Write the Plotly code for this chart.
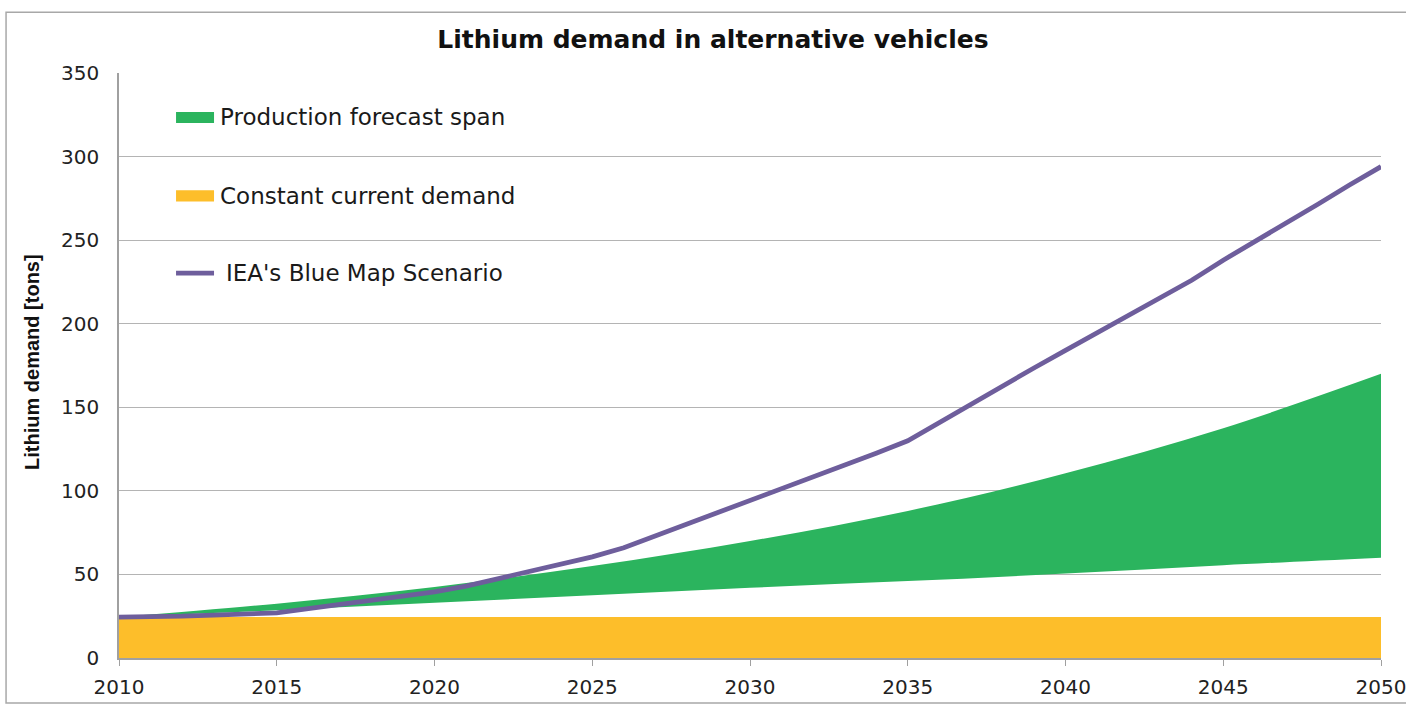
import plotly.graph_objects as go

years_span = [2010, 2015, 2020, 2025, 2030, 2035, 2040, 2045, 2050]
span_upper = [24.5, 32.5, 42.5, 55, 70, 88, 110.5, 137.5, 170]
span_lower = [24.5, 28.5, 33, 37.5, 42, 46, 50.5, 55.5, 60]

years_const = [2010, 2050]
const_demand = [24.5, 24.5]

years_iea = list(range(2010, 2051))
iea_blue_map = [24.5, 24.5, 25, 25.7, 26.3, 27, 29.5, 32, 34.5, 37, 39.5,
                43, 47.5, 52, 56, 60.5, 66, 73, 80.5, 87.5, 94.5,
                101.5, 108.5, 115.5, 122.5, 130, 141, 152, 163, 173.5, 184,
                194.5, 205, 215.5, 226, 238, 249, 260, 271.5, 283, 294]

x_ticks = [2010, 2015, 2020, 2025, 2030, 2035, 2040, 2045, 2050]
y_ticks = [0, 50, 100, 150, 200, 250, 300, 350]

GREEN = "#2BB45E"
ORANGE = "#FDBE2A"
PURPLE = "#6E5E9C"
FONT = "DejaVu Sans"

fig = go.Figure()
fig.add_trace(go.Scatter(x=years_const, y=const_demand, mode="lines",
                         line=dict(width=0, color=ORANGE), fill="tozeroy",
                         fillcolor=ORANGE, name="Constant current demand",
                         showlegend=False))
fig.add_trace(go.Scatter(x=years_span, y=span_lower, mode="lines",
                         line=dict(width=0, color=GREEN, shape="spline"),
                         showlegend=False, hoverinfo="skip"))
fig.add_trace(go.Scatter(x=years_span, y=span_upper, mode="lines",
                         line=dict(width=0, color=GREEN, shape="spline"),
                         fill="tonexty", fillcolor=GREEN,
                         name="Production forecast span", showlegend=False))
fig.add_trace(go.Scatter(x=years_iea, y=iea_blue_map, mode="lines",
                         line=dict(width=4.8, color=PURPLE),
                         name="IEA's Blue Map Scenario", showlegend=False))

# manual legend
legend_items = [
    ("Production forecast span", GREEN, "rect", 0.924),
    ("Constant current demand", ORANGE, "rect", 0.790),
    ("IEA's Blue Map Scenario", PURPLE, "line", 0.658),
]
shapes = []
annotations = []
for label, color, kind, yc in legend_items:
    if kind == "rect":
        shapes.append(dict(type="rect", xref="paper", yref="paper",
                           x0=0.0452, x1=0.0753, y0=yc - 0.0095, y1=yc + 0.0095,
                           fillcolor=color, line=dict(width=0)))
        xt = 0.0784
    else:
        shapes.append(dict(type="line", xref="paper", yref="paper",
                           x0=0.0452, x1=0.0753, y0=yc, y1=yc,
                           line=dict(color=color, width=4.8)))
        xt = 0.0835
    annotations.append(dict(text=label, xref="paper", yref="paper", x=xt, y=yc,
                            xanchor="left", yanchor="middle", showarrow=False,
                            font=dict(family=FONT, size=23, color="#1a1a1a")))

# outer border
shapes.append(dict(type="rect", xref="paper", yref="paper",
                   x0=-0.0895, x1=1.03, y0=-0.077, y1=1.104,
                   line=dict(color="#A8A8A8", width=1.5), fillcolor="rgba(0,0,0,0)",
                   layer="below"))

annotations.append(dict(text="<b>Lithium demand [tons]</b>", xref="paper", yref="paper",
                        x=-0.069, y=0.506, textangle=-90, showarrow=False,
                        xanchor="center", yanchor="middle",
                        font=dict(family="Liberation Sans", size=20, color="#111")))

fig.update_layout(
    width=1406, height=707,
    margin=dict(l=119, r=25, t=73, b=49, autoexpand=False),
    paper_bgcolor="white", plot_bgcolor="white",
    title=dict(text="<b>Lithium demand in alternative vehicles</b>", x=0.5071, y=0.944,
               xanchor="center", yanchor="middle",
               font=dict(family=FONT, size=25, color="#111")),
    shapes=shapes, annotations=annotations,
    showlegend=False,
)
fig.update_xaxes(range=[2010, 2050], tickvals=x_ticks, ticktext=[str(v) for v in x_ticks],
                 showgrid=False, showline=True, linecolor="#A0A0A0", linewidth=1.5,
                 ticks="outside", ticklen=6, tickcolor="#A0A0A0", ticklabelstandoff=4,
                 ticklabeloverflow="allow", automargin=False,
                 tickfont=dict(family=FONT, size=20, color="#222"), zeroline=False)
fig.update_yaxes(range=[0, 350], tickvals=y_ticks, showgrid=True, gridcolor="#B4B4B4",
                 gridwidth=1.2, showline=True, linecolor="#A0A0A0", linewidth=1.5,
                 ticks="", tickfont=dict(family=FONT, size=20, color="#222"),
                 zeroline=False, ticklabelstandoff=14, automargin=False)

fig.write_html("out.html", config={"displayModeBar": False},
               post_script="document.body.style.margin='0px';")
